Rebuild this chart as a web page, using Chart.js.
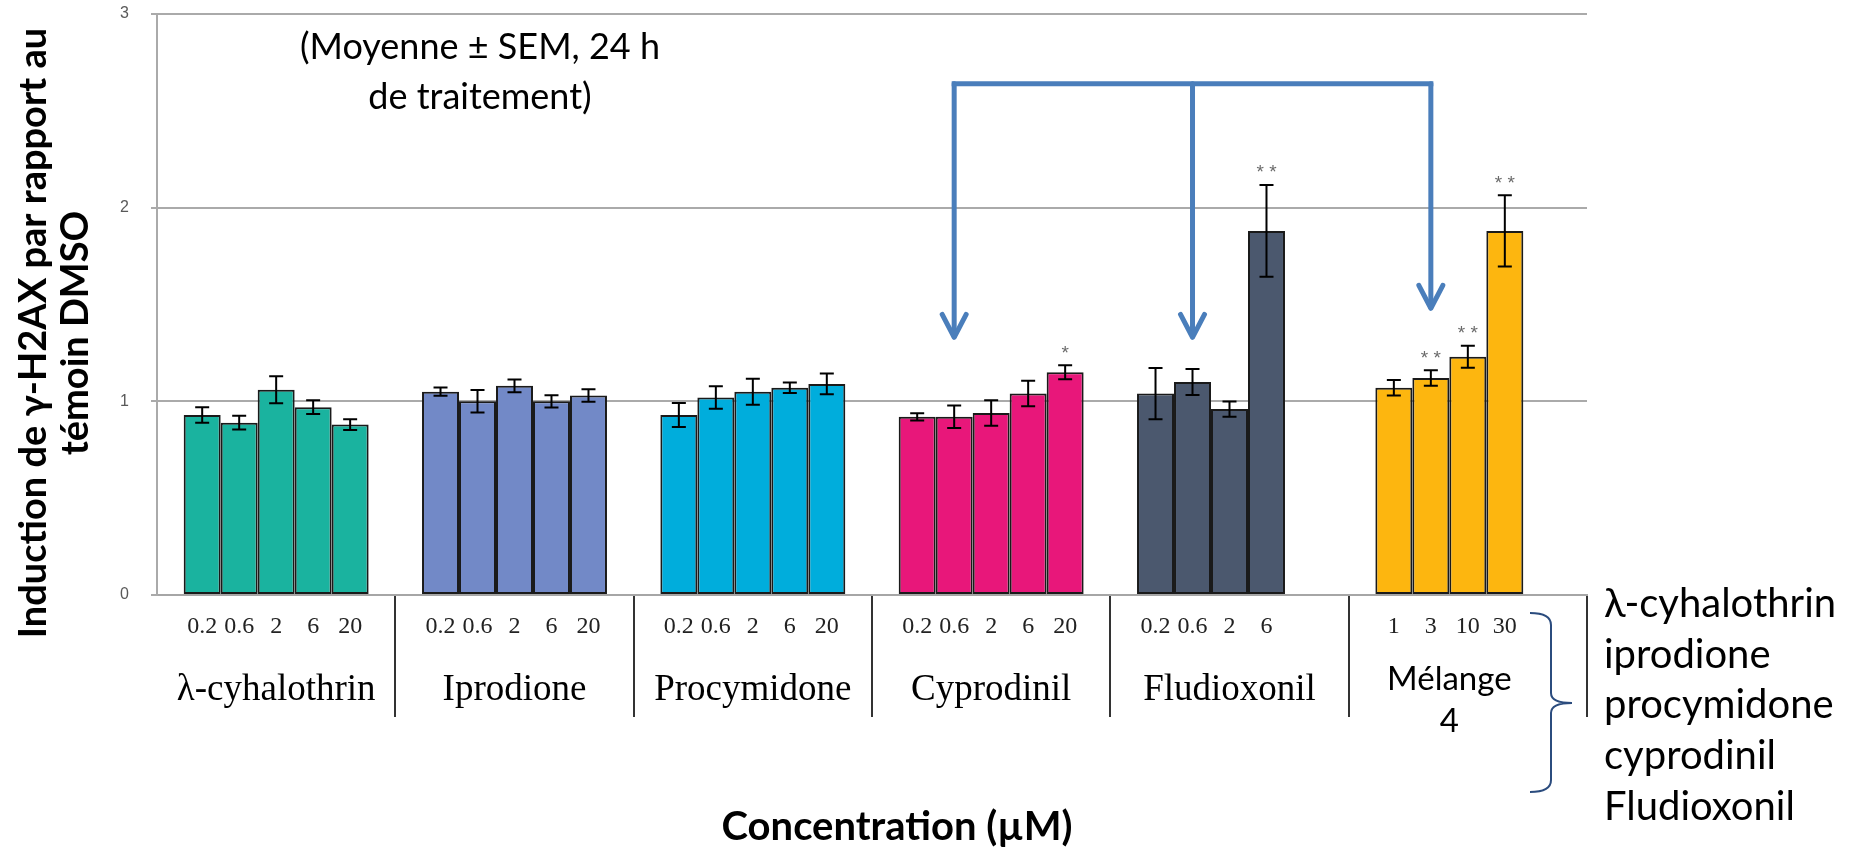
<!DOCTYPE html>
<html>
<head>
<meta charset="utf-8">
<script src="https://cdn.jsdelivr.net/npm/chart.js@4.4.1/dist/chart.umd.min.js"></script>
<style>
  html, body { margin: 0; padding: 0; background: #fff; }
  #wrap { width: 1853px; height: 847px; position: relative; }
</style>
</head>
<body>
<div id="wrap"><canvas id="h2axChart"></canvas></div>
<script>
// x categories (one per compound) and their bar colours
const groupNames = ['λ-cyhalothrin', 'Iprodione', 'Procymidone', 'Cyprodinil', 'Fludioxonil', 'Mélange 4'];
const groupColors = ['#1ab39f', '#7289c7', '#00addc', '#e8177a', '#4b586e', '#fdb60f'];
const mixIndex = 5;

// concentrations (µM) written under the bars
const concSingle = ['0.2', '0.6', '2', '6', '20'];
const concFludioxonil = ['0.2', '0.6', '2', '6'];
const concMelange = ['1', '3', '10', '30'];

// mean induction of γ-H2AX vs DMSO control
const meanCyhalothrin = [0.93, 0.89, 1.06, 0.97, 0.88];
const meanIprodione = [1.05, 1.00, 1.08, 1.00, 1.03];
const meanProcymidone = [0.93, 1.02, 1.05, 1.07, 1.09];
const meanCyprodinil = [0.92, 0.92, 0.94, 1.04, 1.15];
const meanFludioxonil = [1.04, 1.10, 0.96, 1.88];
const meanMelange = [1.07, 1.12, 1.23, 1.88];

// SEM
const semCyhalothrin = [0.04, 0.036, 0.07, 0.036, 0.028];
const semIprodione = [0.021, 0.058, 0.033, 0.032, 0.032];
const semProcymidone = [0.062, 0.058, 0.067, 0.027, 0.054];
const semCyprodinil = [0.019, 0.058, 0.066, 0.066, 0.036];
const semFludioxonil = [0.132, 0.067, 0.039, 0.237];
const semMelange = [0.04, 0.04, 0.057, 0.184];

// significance marks
const sigCyprodinil = ['', '', '', '', '*'];
const sigFludioxonil = ['', '', '', '**'];
const sigMelange = ['', '**', '**', '**'];

// components of the mixture (right-hand list)
const mixComponents = ['λ-cyhalothrin', 'iprodione', 'procymidone', 'cyprodinil', 'Fludioxonil'];

// arrows: from a common bar down onto the 2nd bar of these groups
const arrowTop = 2.64;
const arrowGroups = [3, 4, 5];
const arrowTips = [1.32, 1.32, 1.47];

const means = [meanCyhalothrin, meanIprodione, meanProcymidone, meanCyprodinil, meanFludioxonil, meanMelange];
const sems = [semCyhalothrin, semIprodione, semProcymidone, semCyprodinil, semFludioxonil, semMelange];
const sigs = [[], [], [], sigCyprodinil, sigFludioxonil, sigMelange];
const concLabels = [concSingle, concSingle, concSingle, concSingle, concFludioxonil, concMelange];

const SANS = 'Lato, "Open Sans", sans-serif';
const SERIF = '"Liberation Serif", "DejaVu Serif", serif';

// one dataset per concentration rank
const datasets = [0, 1, 2, 3, 4].map(k => ({
  label: 'c' + (k + 1),
  data: means.map(g => g[k] ?? null),
  sem: sems.map(g => g[k] ?? null),
  sig: sigs.map(g => g[k] || ''),
  backgroundColor: groupColors,
  borderColor: '#1a1a1a',
  borderWidth: 2,
  borderSkipped: false,
  barPercentage: 1.0,
  categoryPercentage: 0.776
}));

const errorBarPlugin = {
  id: 'errorBars',
  afterDatasetsDraw(chart) {
    const { ctx, scales: { y } } = chart;
    ctx.save();
    ctx.strokeStyle = '#000';
    ctx.lineWidth = 2;
    ctx.fillStyle = '#6a6a6a';
    ctx.font = '19px "Liberation Sans", sans-serif';
    ctx.textAlign = 'center';
    ctx.textBaseline = 'middle';
    chart.data.datasets.forEach((ds, i) => {
      chart.getDatasetMeta(i).data.forEach((bar, j) => {
        const v = ds.data[j];
        if (v == null) return;
        const top = y.getPixelForValue(v + ds.sem[j]);
        const bot = y.getPixelForValue(v - ds.sem[j]);
        ctx.beginPath();
        ctx.moveTo(bar.x, top); ctx.lineTo(bar.x, bot);
        ctx.moveTo(bar.x - 7, top); ctx.lineTo(bar.x + 7, top);
        ctx.moveTo(bar.x - 7, bot); ctx.lineTo(bar.x + 7, bot);
        ctx.stroke();
        if (ds.sig[j]) ctx.fillText(ds.sig[j].split('').join(' '), bar.x, top - 12);
      });
    });
    ctx.restore();
  }
};

const arrowPlugin = {
  id: 'arrows',
  afterDatasetsDraw(chart) {
    const { ctx, scales: { y } } = chart;
    const meta = chart.getDatasetMeta(1);
    const xs = arrowGroups.map(g => meta.data[g].x);
    const yTop = y.getPixelForValue(arrowTop);
    ctx.save();
    ctx.strokeStyle = '#4a7ebb';
    ctx.lineWidth = 5;
    ctx.beginPath();
    ctx.moveTo(xs[0] - 2.5, yTop);
    ctx.lineTo(xs[xs.length - 1] + 2.5, yTop);
    ctx.stroke();
    ctx.lineJoin = 'round';
    ctx.lineCap = 'round';
    xs.forEach((x, i) => {
      const tip = y.getPixelForValue(arrowTips[i]);
      ctx.beginPath();
      ctx.moveTo(x, yTop);
      ctx.lineTo(x, tip - 3);
      ctx.stroke();
      ctx.beginPath();
      ctx.moveTo(x - 12, tip - 25);
      ctx.lineTo(x, tip - 2);
      ctx.lineTo(x + 12, tip - 25);
      ctx.stroke();
    });
    ctx.restore();
  }
};

const textPlugin = {
  id: 'texts',
  afterDraw(chart) {
    const { ctx, scales: { x } } = chart;
    ctx.save();
    ctx.textAlign = 'center';

    // concentrations under each bar
    ctx.font = '24px ' + SERIF;
    ctx.fillStyle = '#222';
    ctx.textBaseline = 'middle';
    concLabels.forEach((list, g) => {
      list.forEach((lab, k) => {
        const bar = chart.getDatasetMeta(k).data[g];
        ctx.fillText(lab, bar.x, 627);
      });
    });

    // group names
    ctx.fillStyle = '#000';
    ctx.textBaseline = 'alphabetic';
    groupNames.forEach((name, g) => {
      if (g === mixIndex) {
        const bars = concLabels[g].map((_, k) => chart.getDatasetMeta(k).data[g].x);
        const cx = bars.reduce((a, b) => a + b, 0) / bars.length;
        ctx.font = '33px ' + SANS;
        const parts = name.split(' ');
        ctx.fillText(parts[0], cx, 690);
        ctx.fillText(parts[1], cx, 732);
      } else {
        ctx.font = '37px ' + SERIF;
        ctx.fillText(name, x.getPixelForValue(g), 700);
      }
    });

    // annotation
    ctx.font = '36px ' + SANS;
    ctx.textBaseline = 'middle';
    ctx.fillText('(Moyenne ± SEM, 24 h', 480, 47);
    ctx.fillText('de traitement)', 480, 97);

    // x title
    ctx.font = 'bold 40px ' + SANS;
    ctx.fillText('Concentration (µM)', 897, 827);

    // y title
    ctx.save();
    ctx.translate(0, 333);
    ctx.rotate(-Math.PI / 2);
    ctx.font = 'bold 38px ' + SANS;
    ctx.fillText('Induction de γ-H2AX par rapport au', 0, 34);
    ctx.fillText('témoin DMSO', 0, 76);
    ctx.restore();

    // brace for the mixture
    ctx.strokeStyle = '#2b4c7e';
    ctx.lineWidth = 2;
    ctx.beginPath();
    ctx.moveTo(1530, 613);
    ctx.quadraticCurveTo(1551, 613, 1551, 625);
    ctx.lineTo(1551, 693);
    ctx.quadraticCurveTo(1551, 703, 1572, 703);
    ctx.quadraticCurveTo(1551, 703, 1551, 713);
    ctx.lineTo(1551, 780);
    ctx.quadraticCurveTo(1551, 792, 1530, 792);
    ctx.stroke();

    // mixture components
    ctx.font = '40px ' + SANS;
    ctx.textAlign = 'left';
    ctx.textBaseline = 'alphabetic';
    mixComponents.forEach((c, i) => ctx.fillText(c, 1604, 617 + i * 50.7));

    ctx.restore();
  }
};

new Chart(document.getElementById('h2axChart'), {
  type: 'bar',
  data: { labels: groupNames, datasets },
  options: {
    responsive: true,
    maintainAspectRatio: false,
    animation: false,
    layout: { padding: { left: 97, right: 266, top: 14, bottom: 0 } },
    plugins: {
      legend: { display: false },
      tooltip: { enabled: false }
    },
    scales: {
      x: {
        grid: {
          drawOnChartArea: false,
          tickLength: 122,
          lineWidth: 2,
          color: c => (c.index === 0 || c.index === groupNames.length) ? 'rgba(0,0,0,0)' : '#333'
        },
        border: { color: '#a6a6a6', width: 2 },
        ticks: { display: false },
        afterFit: s => { s.height = 252; }
      },
      y: {
        min: 0,
        max: 3,
        ticks: {
          stepSize: 1,
          color: '#595959',
          padding: 22,
          font: { size: 16, family: '"Liberation Sans", sans-serif' }
        },
        grid: { color: '#aaaaaa', lineWidth: 2, tickLength: 6 },
        border: { color: '#aaaaaa', width: 2 },
        // fixed axis width; drop the label overhang so the plot starts at the top padding
        afterFit: s => { s.width = 60; s.paddingTop = 0; s.paddingBottom = 0; }
      }
    }
  },
  plugins: [errorBarPlugin, arrowPlugin, textPlugin]
});
</script>
</body>
</html>
